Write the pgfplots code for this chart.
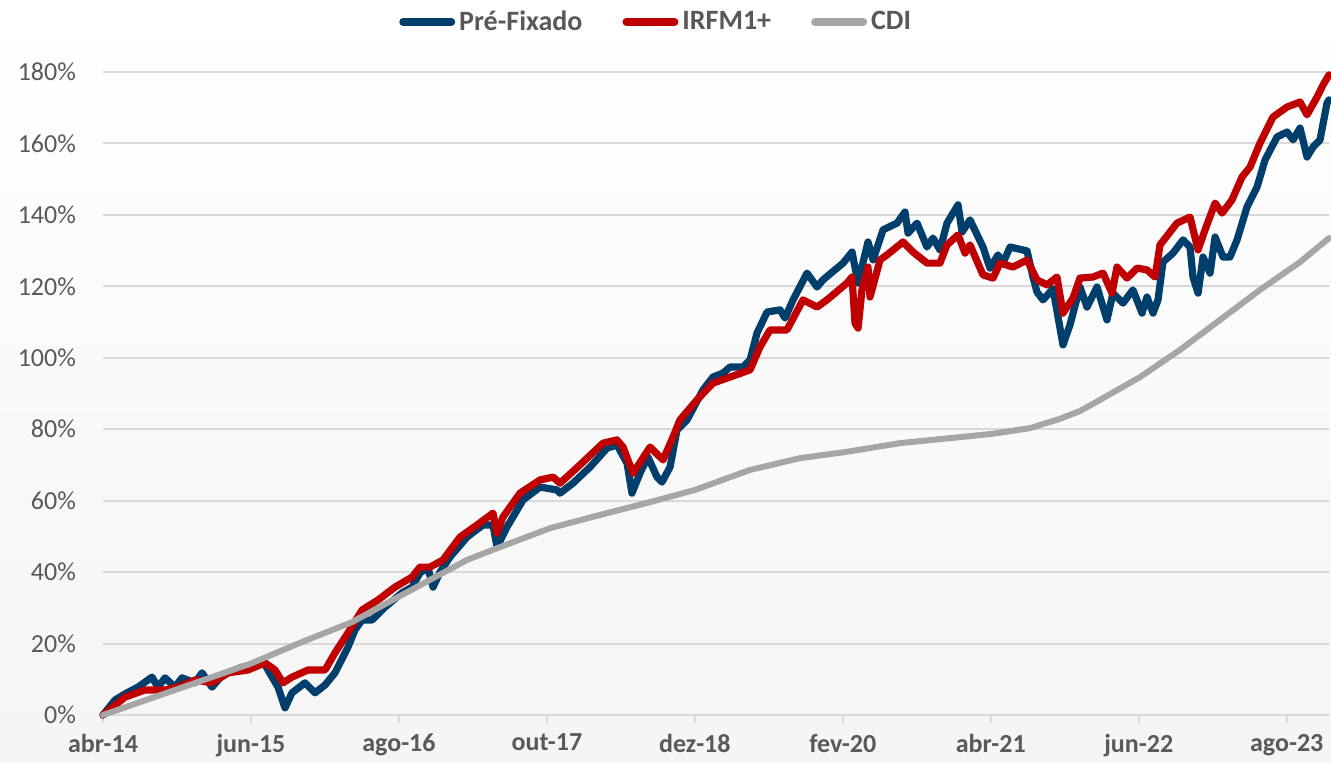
\documentclass[border=0pt]{standalone}
\usepackage{pgfplots}
\pgfplotsset{compat=1.18}
\usepackage{fontspec}
\setmainfont{Carlito}
\definecolor{pre}{HTML}{003E6B}
\definecolor{irf}{HTML}{C00000}
\definecolor{cdi}{HTML}{A6A6A6}
\definecolor{txt}{HTML}{595959}
\definecolor{grd}{HTML}{D9D9D9}
\begin{document}
\begin{tikzpicture}
\useasboundingbox (0,0) rectangle (665.5pt,381.5pt);
\shade[top color=white, bottom color=white!96!black] (0,0) rectangle (665.5pt,381.5pt);
\begin{axis}[
  at={(51.5pt,24pt)}, anchor=south west,
  scale only axis, width=613pt, height=321.5pt,
  xmin=0, xmax=116, ymin=0, ymax=180,
  axis lines*=left,
  y axis line style={draw=none},
  x axis line style={grd, line width=1pt, -},
  xtick={0,14,28,42,56,70,84,98,112},
  xticklabels={abr-14,jun-15,ago-16,out-17,dez-18,fev-20,abr-21,jun-22,ago-23},
  xtick style={grd, line width=1pt},
  ytick style={draw=none},
  major tick length=4pt, tick align=outside,
  xticklabel style={font=\fontsize{13}{15}\selectfont\bfseries, text=txt, yshift=-2pt},
  ytick={0,20,...,180},
  yticklabel={\pgfmathprintnumber{\tick}\%},
  yticklabel style={font=\fontsize{13}{15}\selectfont, text=txt, anchor=east, xshift=-6pt},
  ymajorgrids, grid style={grd, line width=1pt},
  /pgf/number format/assume math mode=true,
  clip=false,
  legend columns=3,
  legend style={draw=none, fill=none, at={(0.452,1.078)}, anchor=center,
    font=\fontsize{14}{16}\selectfont\bfseries, text=txt,
    /tikz/every even column/.append style={column sep=18pt}},
  legend image code/.code={\draw[#1, line width=3.8pt, line cap=round] (0cm,0cm) -- (0.85cm,0cm);},
  every axis plot/.append style={line join=round, line cap=round},
]
\addplot[pre, line width=3.6pt] coordinates {
(0,0) (1.14,4.2) (2.08,5.9) (3.31,7.8) (3.97,9.2) (4.64,10.6) (5.20,7.8) (5.87,10.4) (6.81,7.8) (7.47,10.4)
(8.70,9.0) (9.37,11.8) (10.31,7.8) (11.07,10.4) (11.83,11.8) (13.15,13.4) (14.38,13.4) (15.05,15.4) (15.61,12.6) (16.56,7.8)
(17.22,2.0) (17.88,6.2) (19.11,9.0) (20.06,6.2) (21.01,8.4) (21.95,11.8) (23.18,19.0) (23.84,23.8) (24.51,26.6) (25.45,26.6)
(26.68,30.2) (28.29,34.2) (29.24,35.8) (29.99,39.8) (30.75,41.2) (31.23,35.8) (31.89,40.0) (32.83,44.2) (34.44,49.8) (35.95,53.2)
(36.90,53.2) (37.28,47.0) (38.22,52.6) (39.74,60.2) (41.35,63.8) (42.95,63.0) (43.24,62.1) (44.47,64.9) (46.08,69.4) (47.69,74.7)
(48.63,75.6) (49.58,70.5) (50.05,62.1) (50.81,67.7) (51.56,72.2) (52.42,66.6) (52.89,65.2) (53.65,69.4) (54.31,79.8) (55.26,82.6)
(56.77,91.0) (57.71,94.6) (58.66,95.7) (59.32,97.4) (60.56,97.4) (61.22,99.4) (61.88,106.9) (62.83,112.8) (64.06,113.4) (64.53,111.1)
(65.29,116.2) (66.61,123.7) (67.56,119.8) (68.12,121.8) (70.02,126.5) (70.87,129.6) (71.44,120.9) (72.38,132.4) (72.86,127.4) (73.80,135.8)
(75.13,137.7) (75.88,140.8) (76.17,134.9) (77.02,137.7) (77.96,131.0) (78.53,133.5) (79.19,130.2) (79.86,137.7) (80.90,142.8) (81.28,135.2)
(82.03,138.6) (83.26,131.0) (83.92,125.1) (84.68,128.8) (85.15,126.5) (85.82,131.0) (87.43,129.9) (87.99,122.6) (88.37,118.4) (88.94,116.2)
(89.89,119.3) (90.83,103.6) (91.49,109.2) (92.44,119.8) (93.10,114.2) (94.05,119.8) (94.99,110.6) (95.56,118.1) (96.51,115.3) (97.45,119.0)
(98.31,112.5) (98.78,117.0) (99.35,112.5) (99.82,116.2) (100.29,126.8) (101.24,129.3) (102.19,133.0) (102.85,131.0) (103.13,122.6) (103.61,118.1)
(104.08,128.2) (104.74,123.7) (105.22,133.8) (105.97,128.2) (106.63,128.2) (107.30,133.0) (108.24,142.2) (109.19,147.8) (109.95,155.4) (111.08,161.8)
(112.03,163.2) (112.60,161.0) (113.26,164.3) (113.92,156.2) (114.49,159.0) (115.15,161.0) (115.81,171.3) (116.00,172.2)
};
\addlegendentry{Pré-Fixado}
\addplot[irf, line width=3.6pt] coordinates {
(0,0) (2.08,5.0) (3.97,7.0) (5.87,7.0) (7.10,7.8) (8.70,9.8) (10.31,9.0) (11.83,11.8) (13.72,12.6) (15.33,14.6)
(16.27,12.6) (17.03,9.0) (17.88,10.6) (19.40,12.6) (21.01,12.6) (21.95,17.4) (23.18,23.0) (24.51,29.4) (26.02,32.2) (27.63,35.8)
(29.24,38.6) (29.99,41.4) (30.94,41.4) (32.17,43.4) (33.78,49.8) (35.39,53.2) (36.90,56.5) (37.28,50.9) (37.84,55.4) (39.46,62.1)
(41.35,65.8) (42.58,66.6) (43.24,64.9) (45.13,70.0) (47.31,76.1) (48.63,77.0) (49.20,75.0) (50.15,67.7) (51.76,75.0) (52.99,71.4)
(53.93,77.8) (54.59,82.6) (56.20,88.2) (57.71,92.9) (59.32,94.6) (61.22,96.6) (62.16,103.0) (63.11,107.8) (64.72,107.8) (66.23,116.2)
(67.56,114.2) (68.50,116.2) (70.39,120.9) (70.87,122.6) (71.15,109.7) (71.44,108.3) (71.81,119.0) (72.38,125.4) (72.57,117.0) (73.52,127.4)
(74.18,128.8) (75.69,132.4) (76.64,129.6) (77.96,126.5) (79.19,126.5) (79.86,131.6) (80.90,134.4) (81.56,129.3) (82.03,131.6) (83.26,123.2)
(84.21,122.3) (84.87,126.5) (86.10,125.4) (87.43,127.4) (88.37,121.8) (89.32,120.4) (90.26,122.6) (90.83,112.5) (91.78,116.7) (92.44,122.3)
(93.67,122.6) (94.62,123.7) (95.47,118.1) (95.94,125.4) (96.89,122.3) (97.84,125.1) (98.78,124.6) (99.54,122.6) (100.01,131.6) (101.62,137.7)
(102.85,139.4) (103.61,130.2) (104.27,135.8) (105.22,143.3) (105.88,140.5) (106.82,144.2) (107.77,150.6) (108.53,153.4) (109.47,160.1) (110.70,167.4)
(112.03,170.2) (113.26,171.6) (113.92,168.0) (114.87,173.0) (115.44,176.4) (116.00,179.2)
};
\addlegendentry{IRFM1+}
\addplot[cdi, line width=3pt] coordinates {
(0,0) (13.91,14.3) (18.64,20.2) (23.56,26.0) (28.10,33.3) (34.44,43.4) (37.56,47.0) (42.29,52.3) (47.02,56.0) (51.76,59.6)
(56.01,63.0) (61.22,68.6) (65.95,71.9) (70.21,73.6) (75.41,76.1) (80.14,77.5) (84.11,78.7) (87.70,80.3) (90.54,82.9) (92.44,85.1)
(94.33,88.2) (98.12,94.6) (101.90,102.2) (105.69,110.6) (109.47,119.0) (113.26,126.8) (116.00,133.5)
};
\addlegendentry{CDI}
\end{axis}
\end{tikzpicture}
\end{document}
